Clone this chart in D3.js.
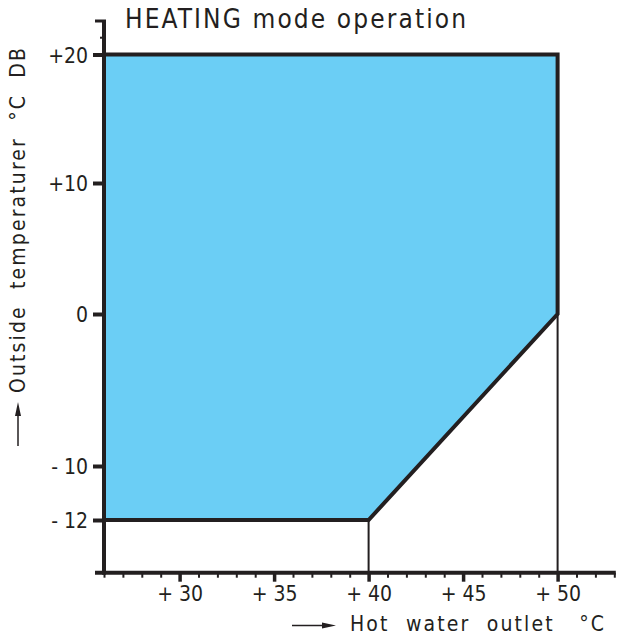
<!DOCTYPE html>
<html>
<head>
<meta charset="utf-8">
<script src="https://cdn.jsdelivr.net/npm/d3@7"></script>
<style>
  html, body { margin: 0; padding: 0; background: #fff; }
  svg { display: block; }
  .t { font-family: "Liberation Sans Narrow", "DejaVu Sans Condensed", "Liberation Sans", sans-serif; font-stretch: condensed; fill: #231f20; }
</style>
</head>
<body>
<svg id="chart" width="622" height="641"></svg>
<script>
// ---- data ----
const titleText = "HEATING mode operation";
const xLabelText = "Hot  water  outlet   \u00B0C";
const yLabelText = "Outside  temperaturer  \u00B0C  DB";
const xDomain = [26, 53];
const xMajorTicks = [30, 35, 40, 45, 50];
const xTickLabels = ["+ 30", "+ 35", "+ 40", "+ 45", "+ 50"];
const yTicks = [20, 10, 0, -10, -12];
const yTickLabels = ["+20", "+10", "0", "- 10", "- 12"];
// operating envelope (hot water outlet °C, outside temp °C)
const envX = [26, 50, 50, 40, 26];
const envY = [20, 20, 0, -12, -12];

(function () {
// ---- layout ----
const svg = d3.select("#chart");
const ink = "#231f20";
const fillCol = "#6bcef5";
const pL = 104, pR = 614.3, pT = 21, pB = 572.7;

const x = d3.scaleLinear().domain(xDomain).range([pL, pR]);
// schematic (non-uniform) temperature axis
const y = d3.scaleLinear().domain([-12, -10, 0, 10, 20]).range([520, 466, 314, 183, 54.5]);

const pts = envX.map((v, i) => [x(v), y(envY[i])]);

// fill
svg.append("path")
  .attr("d", d3.line()(pts) + "Z")
  .attr("fill", fillCol);

// thin verticals from the envelope down to the x axis
[[40, -12], [50, 0]].forEach(([vx, vy]) => {
  svg.append("line")
    .attr("x1", x(vx)).attr("x2", x(vx))
    .attr("y1", y(vy)).attr("y2", pB)
    .attr("stroke", ink).attr("stroke-width", 2);
});

// outline (top, right, diagonal, bottom)
svg.append("path")
  .attr("d", d3.line()(pts))
  .attr("fill", "none")
  .attr("stroke", ink)
  .attr("stroke-width", 4)
  .attr("stroke-linejoin", "miter");

// x axis minor ticks
const xMinor = svg.append("g").attr("transform", `translate(0,${pB})`)
  .call(d3.axisBottom(x).ticks(27).tickSize(5).tickFormat(""));
xMinor.select(".domain").remove();
xMinor.selectAll(".tick line").attr("stroke", ink).attr("stroke-width", 2);

// x axis major ticks
const xMajor = svg.append("g").attr("transform", `translate(0,${pB})`)
  .call(d3.axisBottom(x).tickValues(xMajorTicks).tickSize(9).tickPadding(4)
    .tickFormat((d, i) => xTickLabels[i]));
xMajor.select(".domain").remove();
xMajor.selectAll(".tick line").attr("stroke", ink).attr("stroke-width", 3.5);
xMajor.selectAll(".tick text").attr("class", "t").attr("font-size", 21)
  .attr("fill", ink).attr("font-family", null);

// y axis ticks
const yAx = svg.append("g").attr("transform", `translate(${pL},0)`)
  .call(d3.axisLeft(y).tickValues(yTicks).tickSize(11).tickPadding(5)
    .tickFormat((d, i) => yTickLabels[i]));
yAx.select(".domain").remove();
yAx.selectAll(".tick line").attr("stroke", ink).attr("stroke-width", 4);
yAx.selectAll(".tick text").attr("class", "t").attr("font-size", 21)
  .attr("fill", ink).attr("font-family", null).attr("dy", "0.36em");

// axis lines
svg.append("line").attr("x1", pL).attr("x2", pL).attr("y1", pT).attr("y2", pB + 2)
  .attr("stroke", ink).attr("stroke-width", 4);
svg.append("line").attr("x1", pL - 9).attr("x2", pR + 1.5).attr("y1", pB).attr("y2", pB)
  .attr("stroke", ink).attr("stroke-width", 4);
// top cap and small tick
svg.append("line").attr("x1", pL - 9).attr("x2", pL + 2).attr("y1", pT).attr("y2", pT)
  .attr("stroke", ink).attr("stroke-width", 3);
svg.append("line").attr("x1", pL - 4).attr("x2", pL).attr("y1", 37.7).attr("y2", 37.7)
  .attr("stroke", ink).attr("stroke-width", 2);

// title
svg.append("text").attr("class", "t")
  .attr("x", 125).attr("y", 28)
  .attr("font-size", 26)
  .attr("textLength", 341).attr("lengthAdjust", "spacing")
  .text(titleText);

// x label with arrow
svg.append("line").attr("x1", 292).attr("x2", 326).attr("y1", 625.5).attr("y2", 625.5)
  .attr("stroke", ink).attr("stroke-width", 1.5);
svg.append("path").attr("d", "M322,622.5 L336,625.5 L322,628.5 Z").attr("fill", ink);
svg.append("text").attr("class", "t")
  .attr("x", 350).attr("y", 631)
  .attr("font-size", 21)
  .attr("textLength", 254).attr("lengthAdjust", "spacing")
  .style("white-space", "pre")
  .text(xLabelText);

// y label with arrow
svg.append("line").attr("x1", 18).attr("x2", 18).attr("y1", 446).attr("y2", 412)
  .attr("stroke", ink).attr("stroke-width", 1.5);
svg.append("path").attr("d", "M15,416 L18,402 L21,416 Z").attr("fill", ink);
svg.append("text").attr("class", "t")
  .attr("transform", "translate(25,393) rotate(-90)")
  .attr("font-size", 21)
  .attr("textLength", 345).attr("lengthAdjust", "spacing")
  .style("white-space", "pre")
  .text(yLabelText);
})();
</script>
</body>
</html>
